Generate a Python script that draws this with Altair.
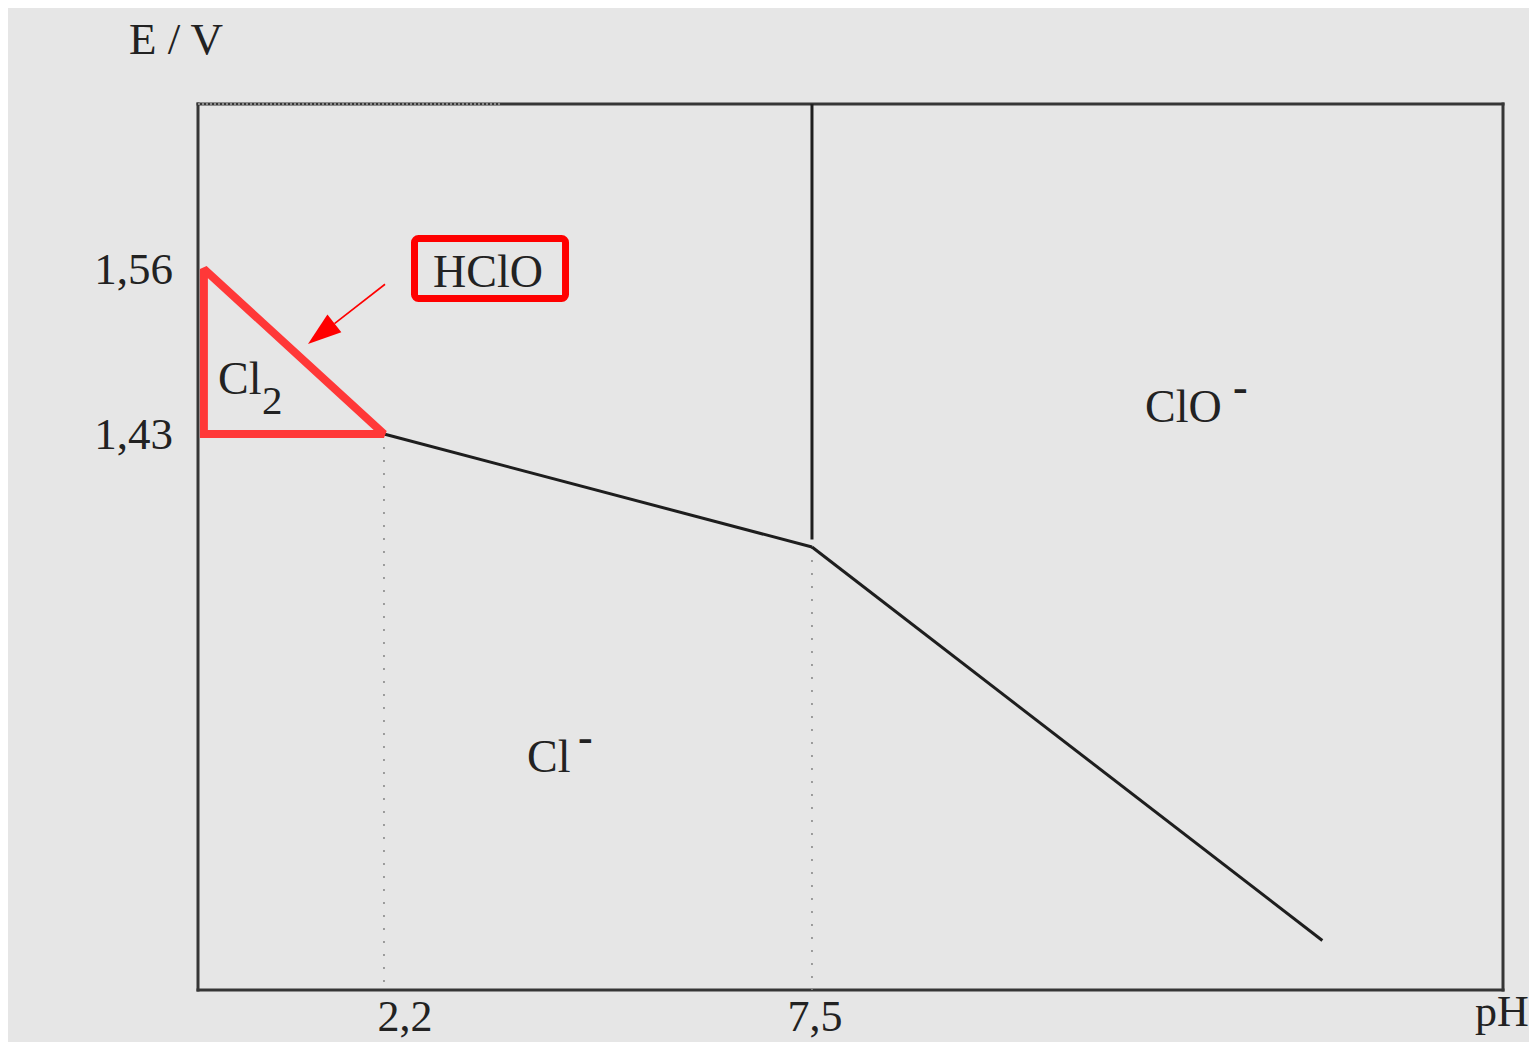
import altair as alt
import pandas as pd

# ---------------- data ----------------
X_MIN, X_MAX = -0.103, 16.057   # pH range of the frame
Y_MIN, Y_MAX = 0.992, 1.69      # E / V range of the frame

SEG_NAMES = ["Cl2/HClO", "Cl2/Cl-", "HClO/Cl-", "ClO-/Cl-", "HClO/ClO-"]
SEG_PH = [[-0.03, 2.2], [-0.03, 2.2], [2.2, 7.5], [7.5, 13.82], [7.5, 7.5]]
SEG_E = [[1.56, 1.43], [1.43, 1.43], [1.43, 1.341], [1.341, 1.031], [1.69, 1.347]]

DOT_PH = [2.2, 7.5]
DOT_E_TOP = [1.43, 1.341]

X_TICKS = [2.2, 7.5]
X_TICK_LABELS = ["2,2", "7,5"]
X_TICK_NUDGE = [21, 3]
Y_TICKS = [1.56, 1.43]
Y_TICK_LABELS = ["1,56", "1,43"]

SPECIES = ["HClO", "Cl", "2", "ClO", "-", "Cl", "-"]
SPECIES_ROLE = ["main", "main", "sub", "main", "sup", "main", "sup"]
SPECIES_PH = [2.807, 0.145, 0.689, 11.624, 12.714, 3.971, 4.603]
SPECIES_E = [1.5458, 1.4615, 1.4457, 1.4394, 1.4556, 1.1637, 1.1798]

TRI_PH = [-0.03, -0.03, 2.2]
TRI_E = [1.56, 1.43, 1.43]

BOX_PH = [2.578, 4.448]
BOX_E = [1.5368, 1.584]

ARROW_PH = [2.213, 1.587]
ARROW_E = [1.548, 1.517]
ARROW_TIP_PH = [1.259]
ARROW_TIP_E = [1.501]

# ---------------- tables ----------------
seg_rows = []
for name, phs, es in zip(SEG_NAMES, SEG_PH, SEG_E):
    for i, (p, e) in enumerate(zip(phs, es)):
        seg_rows.append({"seg": name, "i": i, "ph": p, "e": e})
seg_df = pd.DataFrame(seg_rows)

dot_df = pd.DataFrame({"ph": DOT_PH, "e": DOT_E_TOP, "e2": [Y_MIN] * len(DOT_PH)})
frame_df = pd.DataFrame({
    "x": [X_MIN, X_MIN, X_MIN, X_MAX],
    "x2": [X_MAX, X_MAX, X_MIN, X_MAX],
    "y": [Y_MAX, Y_MIN, Y_MIN, Y_MIN],
    "y2": [Y_MAX, Y_MIN, Y_MAX, Y_MAX],
})
tri_df = pd.DataFrame({"ph": TRI_PH, "e": TRI_E, "i": list(range(len(TRI_PH)))})
box_df = pd.DataFrame({"x": [BOX_PH[0]], "x2": [BOX_PH[1]], "y": [BOX_E[0]], "y2": [BOX_E[1]]})
arrow_df = pd.DataFrame({"x": [ARROW_PH[0]], "x2": [ARROW_PH[1]], "y": [ARROW_E[0]], "y2": [ARROW_E[1]]})
tip_df = pd.DataFrame({"ph": ARROW_TIP_PH, "e": ARROW_TIP_E})
sp_df = pd.DataFrame({"t": SPECIES, "role": SPECIES_ROLE, "ph": SPECIES_PH, "e": SPECIES_E})
ytick_df = pd.DataFrame({"e": Y_TICKS, "t": Y_TICK_LABELS})

FONT = "Liberation Serif"
INK = "#222222"
xs = alt.Scale(domain=[X_MIN, X_MAX], nice=False, zero=False)
ys = alt.Scale(domain=[Y_MIN, Y_MAX], nice=False, zero=False)

def X(f):
    return alt.X(f, type="quantitative", scale=xs, axis=None)

def Y(f):
    return alt.Y(f, type="quantitative", scale=ys, axis=None)

layers = []

# frame
layers.append(alt.Chart(frame_df).mark_rule(color="#363636", strokeWidth=3, strokeCap="square").encode(
    x=X("x"), x2="x2", y=Y("y"), y2="y2"))
# faded part of the top border
layers.append(alt.Chart(pd.DataFrame({"x": [X_MIN], "x2": [3.64], "y": [Y_MAX]})).mark_rule(
    color="#8c8c8c", strokeWidth=2, strokeDash=[2, 2]).encode(x=X("x"), x2="x2", y=Y("y")))

# dotted guides
layers.append(alt.Chart(dot_df).mark_rule(color="#8a8a8a", strokeWidth=1.6, strokeDash=[2, 11]).encode(
    x=X("ph"), y=Y("e"), y2="e2"))

# boundaries
layers.append(alt.Chart(seg_df).mark_line(color="#1e1e1e", strokeWidth=3).encode(
    x=X("ph"), y=Y("e"), detail="seg:N", order="i:Q"))

# red annotations
layers.append(alt.Chart(tri_df).mark_line(color="#ff3838", strokeWidth=8, interpolate="linear-closed",
                                          strokeJoin="miter", strokeMiterLimit=2).encode(
    x=X("ph"), y=Y("e"), order="i:Q"))
layers.append(alt.Chart(box_df).mark_rect(fillOpacity=0, stroke="#ff0000", strokeWidth=7, cornerRadius=4).encode(
    x=X("x"), x2="x2", y=Y("y"), y2="y2"))
layers.append(alt.Chart(arrow_df).mark_rule(color="#ff0000", strokeWidth=1.6).encode(
    x=X("x"), x2="x2", y=Y("y"), y2="y2"))
layers.append(alt.Chart(tip_df).mark_point(shape="M0,0L1.13,3.35L-1.13,3.35Z", filled=True, size=400,
                                           angle=232, color="#ff0000", opacity=1, strokeWidth=0).encode(
    x=X("ph"), y=Y("e")))

# species labels
layers.append(alt.Chart(sp_df).transform_filter(alt.datum.role == "main").mark_text(
    font=FONT, fontSize=46, color=INK, align="left", baseline="alphabetic").encode(
    x=X("ph"), y=Y("e"), text="t:N"))
layers.append(alt.Chart(sp_df).transform_filter(alt.datum.role == "sub").mark_text(
    font=FONT, fontSize=41, color=INK, align="left", baseline="alphabetic").encode(
    x=X("ph"), y=Y("e"), text="t:N"))
layers.append(alt.Chart(sp_df).transform_filter(alt.datum.role == "sup").mark_text(
    font=FONT, fontSize=44, fontWeight="bold", color=INK, align="left", baseline="alphabetic").encode(
    x=X("ph"), y=Y("e"), text="t:N"))

# y tick labels
layers.append(alt.Chart(ytick_df).mark_text(font=FONT, fontSize=45, color=INK, align="right",
                                            baseline="alphabetic", dx=-25, dy=15).encode(
    x=alt.datum(X_MIN, type="quantitative", scale=xs, axis=None), y=Y("e"), text="t:N"))

# x tick labels
for v, lab, nudge in zip(X_TICKS, X_TICK_LABELS, X_TICK_NUDGE):
    layers.append(alt.Chart(pd.DataFrame({"ph": [v], "t": [lab]})).mark_text(
        font=FONT, fontSize=44, color=INK, align="center", baseline="alphabetic", dx=nudge, dy=41).encode(
        x=X("ph"), y=alt.datum(Y_MIN, type="quantitative", scale=ys, axis=None), text="t:N"))

# axis titles
layers.append(alt.Chart(pd.DataFrame({"t": ["E / V"]})).mark_text(
    font=FONT, fontSize=45, color=INK, align="center", baseline="alphabetic", dx=-22, dy=-50).encode(
    x=alt.datum(X_MIN, type="quantitative", scale=xs, axis=None),
    y=alt.datum(Y_MAX, type="quantitative", scale=ys, axis=None), text="t:N"))
layers.append(alt.Chart(pd.DataFrame({"t": ["pH"]})).mark_text(
    font=FONT, fontSize=44, color=INK, align="left", baseline="alphabetic", dx=-28, dy=36).encode(
    x=alt.datum(X_MAX, type="quantitative", scale=xs, axis=None),
    y=alt.datum(Y_MIN, type="quantitative", scale=ys, axis=None), text="t:N"))

chart = alt.layer(*layers).properties(
    width=1305, height=886,
    autosize=alt.AutoSizeParams(type="none"),
    padding={"left": 190, "top": 96, "right": 26, "bottom": 52},
    background="#e6e6e6",
).configure_view(stroke=None)

chart.save("out.html", embed_options={"renderer": "svg", "actions": False})
